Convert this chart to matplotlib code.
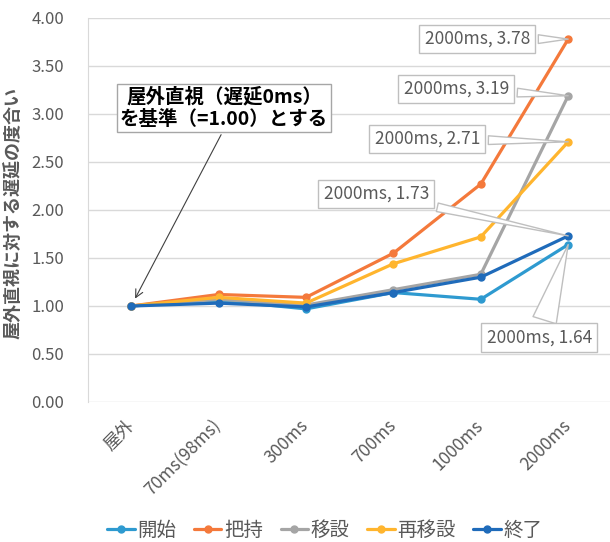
import numpy as np
import matplotlib
matplotlib.use("Agg")
import matplotlib.pyplot as plt

plt.rcParams['font.family'] = ['Noto Sans CJK JP', 'DejaVu Sans']

# data
categories = ['屋外', '70ms(98ms)', '300ms', '700ms', '1000ms', '2000ms']
series_names = ['開始', '把持', '移設', '再移設', '終了']
kaishi = [1.00, 1.06, 0.97, 1.14, 1.07, 1.64]
haji = [1.00, 1.12, 1.09, 1.55, 2.27, 3.78]
isetsu = [1.00, 1.07, 1.01, 1.17, 1.33, 3.19]
saiisetsu = [1.00, 1.09, 1.03, 1.44, 1.72, 2.71]
shuryo = [1.00, 1.03, 0.99, 1.14, 1.30, 1.73]
colors = ['#2E9AD0', '#F4793B', '#A5A5A5', '#FFB52E', '#1F6BBA']

all_series = [kaishi, haji, isetsu, saiisetsu, shuryo]

fig = plt.figure(figsize=(6.10, 5.42), dpi=100)
ax = fig.add_axes([87.5 / 610, 140 / 542, 524.4 / 610, 384 / 542])

x = np.arange(len(categories))
for name, vals, c in zip(series_names, all_series, colors):
    ax.plot(x, vals, color=c, lw=2.3, marker='o', ms=5, label=name,
            solid_capstyle='round', zorder=3)

ax.set_xlim(-0.5, 5.5)
ax.set_ylim(0, 4)
ax.set_yticks(np.arange(0, 4.01, 0.5))
ax.set_yticklabels(['%.2f' % v for v in np.arange(0, 4.01, 0.5)])
ax.yaxis.grid(True, color='#D9D9D9', lw=1)
ax.set_axisbelow(True)
for s in ['top', 'right', 'bottom']:
    ax.spines[s].set_visible(False)
ax.spines['left'].set_color('#D9D9D9')
ax.tick_params(axis='y', length=0, pad=17, labelsize=12, labelcolor='#595959')
ax.tick_params(axis='x', length=0, pad=15, labelsize=12.5, labelcolor='#595959')
ax.set_xticks(x)
ax.set_xticklabels(categories, rotation=45, ha='right', va='center',
                   rotation_mode='anchor')

fig.text(13 / 610, 1 - 213 / 542, '屋外直視に対する遅延の度合い', rotation=90,
         ha='center', va='center', fontsize=13, fontweight='bold', color='#595959')

# callout labels at 2000ms
label_offsets = {
    '把持': (-91, 0, 0.5),
    '移設': (-112, 7, 0.5),
    '再移設': (-141, 3, 0.5),
    '終了': (-192, 42, 0.5),
    '開始': (-29, -93, 1.4),
}
for name, vals in zip(series_names, all_series):
    dx, dy, tw = label_offsets[name]
    ax.annotate('2000ms, %.2f' % vals[-1], xy=(5, vals[-1]), xytext=(dx, dy),
                textcoords='offset pixels', ha='center', va='center',
                fontsize=12.5, color='#595959',
                bbox=dict(boxstyle='square,pad=0.3', fc='white', ec='#BFBFBF', lw=1),
                arrowprops=dict(arrowstyle='wedge,tail_width=%.1f' % tw, fc='white',
                                ec='#BFBFBF', lw=1, shrinkB=0),
                zorder=5)

ax.annotate('屋外直視（遅延0ms）\nを基準（=1.00）とする', xy=(0, 1.0), xytext=(93, 198),
            textcoords='offset pixels', ha='center', va='center', fontsize=14,
            fontweight='bold', color='black', linespacing=1.2,
            bbox=dict(boxstyle='square,pad=0.15', fc='white', ec='#A6A6A6', lw=1),
            arrowprops=dict(arrowstyle='->', color='#404040', lw=0.8, relpos=(0.5, 0),
                            shrinkB=6),
            zorder=6)

fig.legend(loc='center', bbox_to_anchor=(325 / 610, 1 - 530 / 542), ncol=5,
           frameon=False, fontsize=14, handlelength=1.4, handletextpad=0.15,
           columnspacing=0.9, labelcolor='#595959')

plt.savefig('out.png', dpi=100)
